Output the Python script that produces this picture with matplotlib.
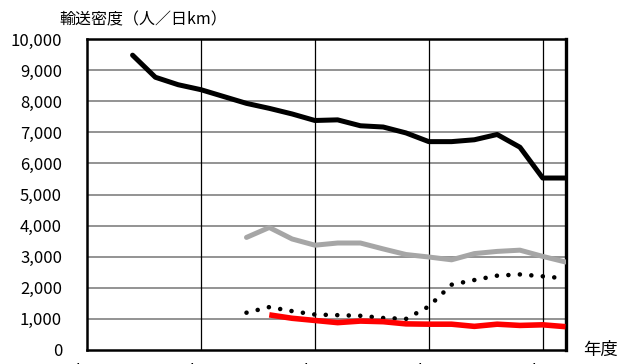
import matplotlib
matplotlib.use("Agg")
import matplotlib.pyplot as plt

plt.rcParams['font.family'] = ['Noto Sans CJK JP', 'DejaVu Sans']

# 年度（横軸の位置 0..21）
years = list(range(0, 22))
xtick_pos = [0, 5, 10, 15, 20]
xtick_labels = ["'75", "'80", "'85", "'90", "'95"]

# 黒線 (x=2..21)
black_x = list(range(2, 22))
black_y = [9480, 8770, 8530, 8370, 8150, 7930, 7770, 7590, 7380, 7400,
           7210, 7170, 6980, 6700, 6700, 6760, 6930, 6520, 5530, 5530]

# 灰色線 (x=7..21)
gray_x = list(range(7, 22))
gray_y = [3620, 3940, 3570, 3370, 3440, 3440, 3250, 3070, 2990, 2900,
          3100, 3170, 3210, 3010, 2830]

# 点線 (x=7..21)
dot_x = list(range(7, 22))
dot_y = [1200, 1380, 1250, 1140, 1120, 1100, 1030, 1000, 1400, 2100,
         2250, 2390, 2430, 2370, 2300]

# 赤線 (x=8..21)
red_x = list(range(8, 22))
red_y = [1130, 1020, 950, 880, 930, 910, 840, 830, 830, 760, 830, 790, 810, 750]

yticks = list(range(0, 10001, 1000))
ytick_labels = [f"{v:,}" for v in yticks]

fig = plt.figure(figsize=(6.18, 3.64), dpi=100, facecolor="white")
ax = fig.add_axes([87 / 618, 1 - 350 / 364, (565.5 - 87) / 618, (350 - 39) / 364])

ax.set_xlim(0, 21)
ax.set_ylim(0, 10000)

# グリッド
for v in yticks[1:-1]:
    ax.axhline(v, color="#808080", lw=1.2, zorder=1)
for p in xtick_pos[1:]:
    ax.axvline(p, color="black", lw=0.9, zorder=1)

ax.plot(black_x, black_y, color="black", lw=3.6, solid_capstyle="round", zorder=3)
ax.plot(gray_x, gray_y, color="#a6a6a6", lw=3.6, solid_capstyle="round", zorder=3)
ax.plot(dot_x, dot_y, color="black", lw=3.3, linestyle=(0, (0.01, 2.5)),
        dash_capstyle="round", zorder=3)
ax.plot(red_x, red_y, color="#ff0000", lw=4.0, solid_capstyle="butt", zorder=3)

for side in ["left", "bottom", "top"]:
    ax.spines[side].set_linewidth(1.8)
ax.spines["right"].set_linewidth(2.4)

ax.set_yticks(yticks)
ax.set_yticklabels(ytick_labels, fontsize=12)
ax.set_xticks(xtick_pos)
ax.set_xticklabels(xtick_labels, fontsize=12)
ax.tick_params(axis="y", length=0, pad=18)
ax.tick_params(axis="x", length=0, pad=9)

fig.text(59 / 618, 1 - 20 / 364, "輸送密度（人／日km）", fontsize=11.5,
         ha="left", va="center")
fig.text(583 / 618, 1 - 350 / 364, "年度", fontsize=12.5, ha="left", va="center")

fig.savefig("out.png", dpi=100, facecolor="white")
